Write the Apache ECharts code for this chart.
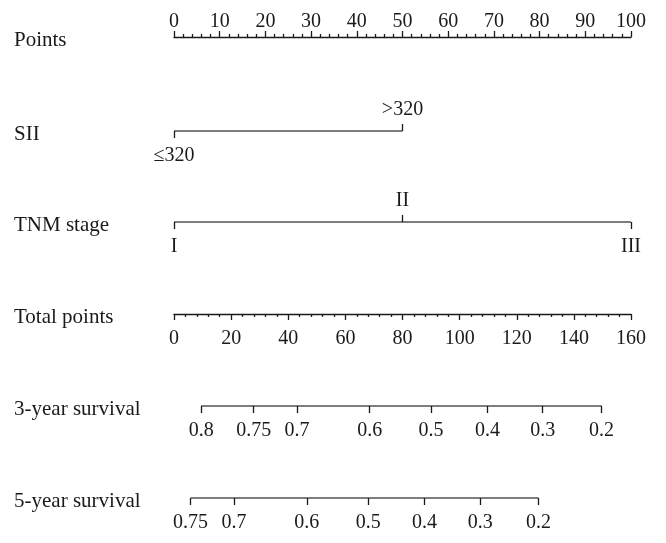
<!DOCTYPE html>
<html><head><meta charset="utf-8">
<script src="https://cdn.jsdelivr.net/npm/echarts@6/dist/echarts.min.js"></script>
<style>html,body{margin:0;padding:0;background:#fff}#c{width:666px;height:543px}</style>
</head><body><div id="c"></div>
<script>
// ---- data ----
const rowLabels = ['Points', 'SII', 'TNM stage', 'Total points', '3-year survival', '5-year survival'];
const pointsTicks = [0, 10, 20, 30, 40, 50, 60, 70, 80, 90, 100];
const siiLevels = ['≤320', '>320'];
const siiPoints = [0, 50];
const tnmLevels = ['I', 'II', 'III'];
const tnmPoints = [0, 50, 100];
const totalTicks = [0, 20, 40, 60, 80, 100, 120, 140, 160];
const surv3Labels = ['0.8', '0.75', '0.7', '0.6', '0.5', '0.4', '0.3', '0.2'];
const surv3Points = [9.5, 27.9, 43.1, 68.5, 90.0, 109.8, 129.1, 149.7];
const surv5Labels = ['0.75', '0.7', '0.6', '0.5', '0.4', '0.3', '0.2'];
const surv5Points = [5.8, 21.0, 46.5, 68.0, 87.7, 107.2, 127.6];

// ---- layout / style ----
const rowY = [37, 131, 222, 314, 406, 498];
const FONT = 'Liberation Serif';
const FS = 20;
const INK = '#1a1a1a';
const lineStyle = { color: INK, width: 1.3 };
const txt = { color: INK, fontFamily: FONT, fontSize: FS };

const grids = rowY.map(y => ({ left: 174, right: 35, top: y, height: 0, containLabel: false }));
const yAxes = rowLabels.map((name, i) => ({
  gridIndex: i, type: 'category', data: [name],
  axisLine: { show: false }, axisTick: { show: false }, splitLine: { show: false },
  axisLabel: Object.assign({}, txt, { align: 'left', margin: 160, fontSize: 21, verticalAlign: 'top', lineHeight: 6 })
}));

const xAxes = [];
const series = [];
const lookup = (vals, labs) => v => {
  let best = 0;
  vals.forEach((p, k) => { if (Math.abs(p - v) < Math.abs(vals[best] - v)) best = k; });
  return labs[best];
};

// Points scale
xAxes.push({
  gridIndex: 0, type: 'value', position: 'top',
  min: pointsTicks[0], max: pointsTicks[pointsTicks.length - 1], interval: pointsTicks[1] - pointsTicks[0],
  axisLine: { show: true, lineStyle },
  axisTick: { show: true, length: 6, lineStyle },
  minorTick: { show: true, splitNumber: 5, length: 3, lineStyle },
  splitLine: { show: false }, minorSplitLine: { show: false },
  axisLabel: Object.assign({ margin: 5 }, txt)
});

// categorical rows (alternate label below / above)
function catRow(gi, levels, pts) {
  const up = pts.filter((p, k) => k % 2 === 1);
  const down = pts.filter((p, k) => k % 2 === 0);
  const fmt = lookup(pts, levels);
  const base = { gridIndex: gi, type: 'value', min: pointsTicks[0], max: pointsTicks[pointsTicks.length - 1],
    axisLine: { show: false }, splitLine: { show: false } };
  xAxes.push(Object.assign({}, base, {
    position: 'top',
    axisTick: { show: true, customValues: up, length: 7, lineStyle },
    axisLabel: Object.assign({ customValues: up, formatter: fmt, margin: 11 }, txt)
  }));
  const topIdx = xAxes.length - 1;
  xAxes.push(Object.assign({}, base, {
    position: 'bottom',
    axisTick: { show: true, customValues: down, length: 7, lineStyle },
    axisLabel: Object.assign({ customValues: down, formatter: fmt, margin: 15 }, txt)
  }));
  series.push({
    type: 'line', xAxisIndex: topIdx, yAxisIndex: gi, symbol: 'none', silent: true,
    lineStyle, data: [[Math.min(...pts), 0], [Math.max(...pts), 0]]
  });
}
catRow(1, siiLevels, siiPoints);
catRow(2, tnmLevels, tnmPoints);

// Total points
xAxes.push({
  gridIndex: 3, type: 'value', position: 'bottom',
  min: totalTicks[0], max: totalTicks[totalTicks.length - 1], interval: totalTicks[1] - totalTicks[0],
  axisLine: { show: true, lineStyle },
  axisTick: { show: true, length: 6, lineStyle },
  minorTick: { show: true, splitNumber: 5, length: 3, lineStyle },
  splitLine: { show: false }, minorSplitLine: { show: false },
  axisLabel: Object.assign({ margin: 15 }, txt)
});

// survival rows
function survRow(gi, labs, pts) {
  xAxes.push({
    gridIndex: gi, type: 'value', position: 'bottom',
    min: totalTicks[0], max: totalTicks[totalTicks.length - 1],
    axisLine: { show: false }, splitLine: { show: false },
    axisTick: { show: true, customValues: pts, length: 7, lineStyle },
    axisLabel: Object.assign({ customValues: pts, formatter: lookup(pts, labs), margin: 15 }, txt)
  });
  series.push({
    type: 'line', xAxisIndex: xAxes.length - 1, yAxisIndex: gi, symbol: 'none', silent: true,
    lineStyle, data: [[Math.min(...pts), 0], [Math.max(...pts), 0]]
  });
}
survRow(4, surv3Labels, surv3Points);
survRow(5, surv5Labels, surv5Points);

const chart = echarts.init(document.getElementById('c'), null, { renderer: 'canvas' });
chart.setOption({
  animation: false,
  backgroundColor: '#fff',
  grid: grids, xAxis: xAxes, yAxis: yAxes, series
});
</script></body></html>
